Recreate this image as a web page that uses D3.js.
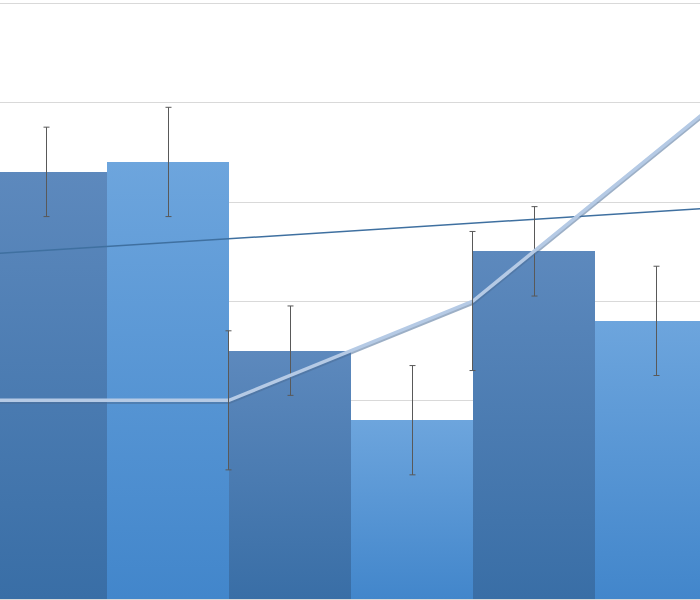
<html>
<head>
  <title>Bars with line and trend</title>
  <script src='https://d3js.org/d3.v7.min.js'></script>
  <style>
    body { margin: 0; background: #fff; }
  </style>
</head>
<body>
  <script>

    // chart data
    var categories = ['A', 'B', 'C', 'D', 'E', 'F'];
    var barValues = [4.3, 4.4, 2.5, 1.8, 3.5, 2.8];
    var barErrors = [0.45, 0.55, 0.45, 0.55, 0.45, 0.55];
    var linePos = [0, 2, 4, 6];
    var lineValues = [2.0, 2.0, 3.0, 5.0];
    var lineErrors = [0.7, 0.7, 0.7, 0.7];
    var trendPos = [0, 6];
    var trendValues = [3.47, 3.94];
    var yTicks = [0, 1, 2, 3, 4, 5, 6];

    var width = 700,
        height = 600;

    var svg = d3.select('body')
      .append('svg')
      .attr('width', width)
      .attr('height', height);

    var defs = svg.append('defs');

    var grads = [
      { id: 'gDark', top: '#5d89bd', bottom: '#396ea6' },
      { id: 'gLight', top: '#6da5dd', bottom: '#4286cb' }
    ];
    grads.forEach(function(g) {
      var lg = defs.append('linearGradient')
        .attr('id', g.id)
        .attr('x1', 0).attr('y1', 0)
        .attr('x2', 0).attr('y2', 1);
      lg.append('stop').attr('offset', '0%').attr('stop-color', g.top);
      lg.append('stop').attr('offset', '100%').attr('stop-color', g.bottom);
    });

    // plot area runs a bit past the window on both sides
    var x = d3.scaleBand()
      .domain(categories)
      .range([-15, 717])
      .padding(0);

    var xu = d3.scaleLinear()
      .domain([0, categories.length])
      .range([-15, 717]);

    var y = d3.scaleLinear()
      .domain([0, 6])
      .range([599, 3]);

    // gridlines
    svg.append('g')
      .selectAll('line')
      .data(yTicks)
      .enter()
      .append('line')
      .attr('x1', 0)
      .attr('x2', width)
      .attr('y1', (d) => Math.round(y(d)) + 0.5)
      .attr('y2', (d) => Math.round(y(d)) + 0.5)
      .attr('stroke', '#d9d9d9')
      .attr('stroke-width', 1);

    // bars
    svg.append('g')
      .attr('shape-rendering', 'crispEdges')
      .selectAll('rect')
      .data(barValues)
      .enter()
      .append('rect')
      .attr('x', (d, i) => x(categories[i]))
      .attr('y', (d) => y(d))
      .attr('width', x.bandwidth())
      .attr('height', (d) => y(0) - y(d))
      .attr('fill', (d, i) => i % 2 === 0 ? 'url(#gDark)' : 'url(#gLight)');

    // trend line
    svg.append('line')
      .attr('x1', xu(trendPos[0]))
      .attr('y1', y(trendValues[0]))
      .attr('x2', xu(trendPos[1]))
      .attr('y2', y(trendValues[1]))
      .attr('stroke', '#3f70a0')
      .attr('stroke-width', 1.5);

    // error bars helper
    function errorBars(g, xs, vals, errs) {
      var eb = g.selectAll('g')
        .data(vals)
        .enter()
        .append('g')
        .attr('stroke', '#595959')
        .attr('stroke-width', 1);
      eb.append('line')
        .attr('x1', (d, i) => xs[i])
        .attr('x2', (d, i) => xs[i])
        .attr('y1', (d, i) => y(d + errs[i]))
        .attr('y2', (d, i) => y(d - errs[i]));
      eb.append('line')
        .attr('x1', (d, i) => xs[i] - 3)
        .attr('x2', (d, i) => xs[i] + 3)
        .attr('y1', (d, i) => y(d + errs[i]))
        .attr('y2', (d, i) => y(d + errs[i]));
      eb.append('line')
        .attr('x1', (d, i) => xs[i] - 3)
        .attr('x2', (d, i) => xs[i] + 3)
        .attr('y1', (d, i) => y(d - errs[i]))
        .attr('y2', (d, i) => y(d - errs[i]));
    }

    errorBars(svg.append('g'),
      categories.map((c) => Math.round(x(c) + x.bandwidth() / 2) + 0.5),
      barValues, barErrors);

    // line series
    var pts = lineValues.map((v, i) => [xu(linePos[i]), y(v)]);
    var lineGen = d3.line();

    svg.append('path')
      .attr('d', lineGen(pts))
      .attr('fill', 'none')
      .attr('stroke', '#4a6e98')
      .attr('stroke-opacity', 0.55)
      .attr('stroke-width', 4.5)
      .attr('transform', 'translate(0,1.5)');

    svg.append('path')
      .attr('d', lineGen(pts))
      .attr('fill', 'none')
      .attr('stroke', '#b5cae5')
      .attr('stroke-width', 3.5)
      .attr('stroke-linejoin', 'miter');

    errorBars(svg.append('g'),
      linePos.map((p) => Math.round(xu(p)) - 0.5),
      lineValues, lineErrors);

  </script>
</body>
</html>
